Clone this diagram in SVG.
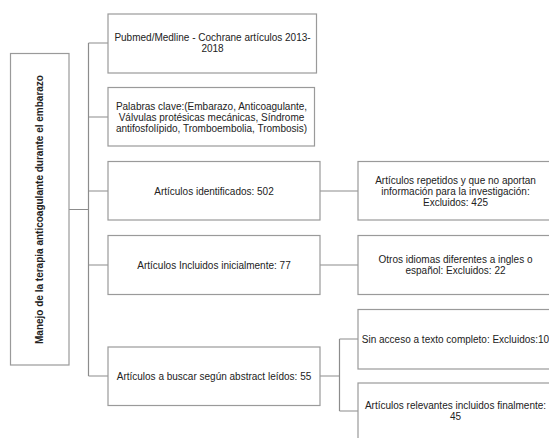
<svg xmlns="http://www.w3.org/2000/svg" width="549" height="438" viewBox="0 0 549 438">
<style>
.box{fill:#fff;stroke:#9a9a9a;stroke-width:1.2}
.ln{fill:none;stroke:#8c8c8c;stroke-width:1.2}
text{font-family:"Liberation Sans",Arial,sans-serif;font-size:10px;fill:#222;text-anchor:middle}
.b{font-weight:bold}
</style>
<rect width="549" height="438" fill="#fff"/>
<g id="connectors">
<path class="ln" d="M69 209.5H88.5M88.5 43V376M88.5 43H108M88.5 117H108M88.5 191H108M88.5 265H108M88.5 376H108"/>
<path class="ln" d="M320 191H358M320 265H358M320 376H339.5M339.5 339V411M339.5 339H358M339.5 411H358"/>
</g>
<g id="root">
<rect class="box" x="10.5" y="53.5" width="58.5" height="311.5"/>
<text class="b" transform="translate(43,209.5) rotate(-90)">Manejo de la terapia anticoagulante durante el embarazo</text>
</g>
<g id="n1">
<rect class="box" x="108" y="14" width="208.5" height="59"/>
<text x="212.5" y="41">Pubmed/Medline - Cochrane artículos 2013-</text>
<text x="212.5" y="52">2018</text>
</g>
<g id="n2">
<rect class="box" x="108" y="87.5" width="206.5" height="58.5"/>
<text x="211.5" y="109.5">Palabras clave:(Embarazo, Anticoagulante,</text>
<text x="211.5" y="120.5">Válvulas protésicas mecánicas, Síndrome</text>
<text x="211.5" y="131.5">antifosfolípido, Tromboembolia, Trombosis)</text>
</g>
<g id="n3">
<rect class="box" x="108" y="161.5" width="212" height="58.5"/>
<text x="214" y="194.5">Artículos identificados: 502</text>
</g>
<g id="n4">
<rect class="box" x="108" y="235.5" width="212" height="59"/>
<text x="214" y="268.5">Artículos Incluidos inicialmente: 77</text>
</g>
<g id="n5">
<rect class="box" x="108" y="347" width="212" height="58.5"/>
<text x="214" y="379.5">Artículos a buscar según abstract leídos: 55</text>
</g>
<g id="rA">
<rect class="box" x="358" y="161.5" width="195" height="58.5"/>
<text x="455.5" y="183.5">Artículos repetidos y que no aportan</text>
<text x="455.5" y="194.5">información para la investigación:</text>
<text x="455.5" y="205.5">Excluidos: 425</text>
</g>
<g id="rB">
<rect class="box" x="358" y="235.5" width="195" height="59"/>
<text x="455.5" y="263">Otros idiomas diferentes a ingles o</text>
<text x="455.5" y="274">español: Excluidos: 22</text>
</g>
<g id="rC">
<rect class="box" x="358" y="309.5" width="195" height="59.5"/>
<text x="455.5" y="342.5">Sin acceso a texto completo: Excluidos:10</text>
</g>
<g id="rD">
<rect class="box" x="358" y="383" width="195" height="59"/>
<text x="455.5" y="409">Artículos relevantes incluidos finalmente:</text>
<text x="455.5" y="420">45</text>
</g>
</svg>
